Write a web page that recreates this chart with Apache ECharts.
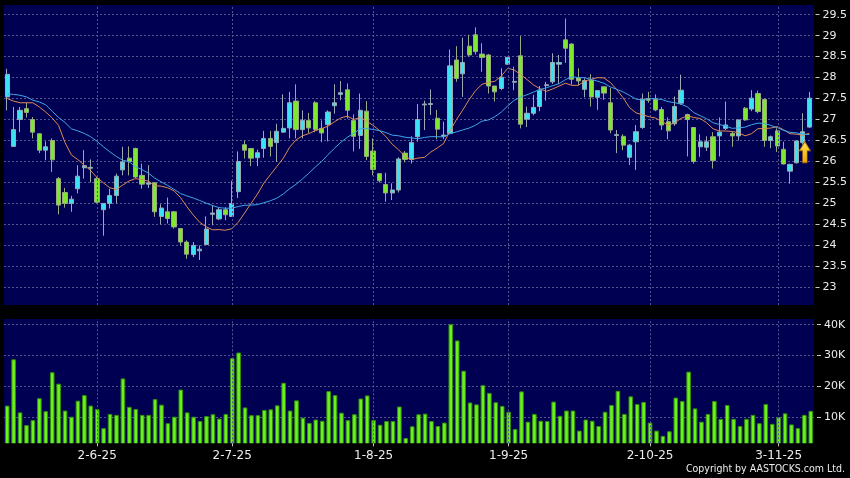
<!DOCTYPE html>
<html><head><meta charset="utf-8">
<script src="https://cdn.jsdelivr.net/npm/echarts@6/dist/echarts.min.js"></script>
<style>html,body{margin:0;padding:0;background:#000;}#c{width:850px;height:478px;}</style>
</head><body><div id="c"></div>
<script>
// ---------- data ----------
const holidays = ['2025-07-01','2025-10-01','2025-10-07','2025-10-29'];
function tradingDays(start, end, skip) {
  const out = []; let d = new Date(start + 'T00:00:00Z'); const e = new Date(end + 'T00:00:00Z');
  while (d <= e) { const wd = d.getUTCDay(); const s = d.toISOString().slice(0, 10);
    if (wd !== 0 && wd !== 6 && !skip.includes(s)) out.push(s); d = new Date(d.getTime() + 86400000); }
  return out;
}
const categories = tradingDays('2025-05-13', '2025-11-10', holidays);
const tickDates  = ['2025-06-02','2025-07-02','2025-08-01','2025-09-01','2025-10-02','2025-11-03'];
const tickLabels = ['2-6-25','2-7-25','1-8-25','1-9-25','2-10-25','3-11-25'];
const priceTickLabels  = ['23','23.5','24','24.5','25','25.5','26','26.5','27','27.5','28','28.5','29','29.5'];
const volumeTickLabels = ['10K','20K','30K','40K'];

const opens = [27.54,26.36,27.00,27.26,27.00,26.66,26.27,26.50,25.59,25.26,
25.00,25.35,25.85,25.84,25.59,24.85,25.00,25.19,25.80,26.08,
26.31,25.67,25.46,25.49,24.69,24.80,24.80,24.40,24.08,23.78,
23.87,24.02,24.74,24.63,24.85,24.69,25.28,26.40,26.31,26.09,
26.31,26.55,26.45,26.70,26.80,27.44,26.76,26.98,27.40,26.79,
26.88,27.33,27.60,27.71,26.98,26.62,27.20,26.25,25.71,25.45,
25.25,25.32,26.20,26.05,26.59,27.35,27.36,27.03,26.60,26.67,
28.42,28.09,28.75,29.02,28.56,28.54,27.80,27.74,28.32,27.89,
28.52,27.01,27.15,27.31,27.81,27.90,28.32,28.90,28.80,27.99,
27.72,27.94,27.53,27.78,27.40,26.62,26.60,26.10,26.47,26.81,
27.50,27.48,27.24,26.95,26.90,27.39,27.12,26.81,26.35,26.34,
26.59,26.61,26.79,26.67,26.61,27.27,27.25,27.62,27.48,26.50,
26.73,26.29,25.77,25.97,26.45,26.82];
const closes = [28.08,26.76,27.22,27.17,26.70,26.27,26.35,26.04,24.96,25.00,
25.10,25.65,25.90,25.86,25.03,25.00,25.19,25.65,25.99,26.00,
25.63,25.46,25.49,24.80,24.89,24.64,24.44,24.08,23.79,24.00,
23.91,24.39,24.77,24.85,24.73,25.00,26.00,26.27,26.08,26.21,
26.55,26.36,26.72,26.79,27.40,26.76,26.98,26.80,26.76,26.68,
27.18,27.40,27.64,27.22,26.60,27.22,26.12,25.81,25.54,25.25,
25.32,26.06,26.05,26.45,27.00,27.37,27.38,26.77,26.63,28.28,
27.98,28.36,28.54,28.62,28.48,27.80,27.66,28.01,28.48,27.91,
26.89,27.15,27.29,27.70,27.83,28.36,28.36,28.70,27.96,27.92,
27.93,27.54,27.69,27.63,26.75,26.64,26.39,26.39,26.71,27.48,
27.46,27.23,26.87,26.73,27.31,27.70,27.00,26.00,26.47,26.47,
26.02,26.70,26.87,26.61,26.99,26.99,27.51,27.19,26.50,26.59,
26.37,25.94,25.93,26.49,26.71,27.51];
const highs = [28.21,27.30,27.30,27.40,27.06,26.68,26.48,26.55,25.63,25.37,
25.18,25.91,26.27,26.05,25.63,25.00,25.35,25.71,26.35,26.36,
26.33,25.95,25.91,25.51,24.98,25.14,24.82,24.40,24.12,24.08,
24.00,24.69,24.95,24.91,24.91,25.54,26.24,26.50,26.31,26.28,
26.73,26.73,26.90,27.60,27.66,27.84,27.22,27.16,27.44,26.98,
27.22,27.84,27.92,27.86,27.12,27.62,27.44,26.55,25.71,25.73,
25.48,26.10,26.25,26.60,27.37,27.45,27.72,27.23,26.95,28.67,
28.75,28.95,29.02,29.20,28.82,28.56,27.80,28.22,28.50,28.26,
28.99,27.31,27.59,27.80,27.90,28.58,28.54,29.41,28.82,28.22,
27.98,28.08,27.70,27.80,27.75,26.75,26.65,26.42,26.87,27.62,
27.66,27.60,27.30,27.05,27.55,28.07,27.14,26.82,26.65,26.60,
26.70,27.05,27.43,26.72,27.00,27.30,27.70,27.69,27.50,26.62,
26.79,26.47,25.95,26.50,27.15,27.66];
const lows = [27.22,26.35,26.70,27.05,26.55,26.20,26.03,25.75,24.74,24.90,
24.80,25.24,25.59,25.50,25.00,24.23,24.88,25.00,25.67,25.67,
25.60,25.35,25.37,24.68,24.50,24.52,24.40,24.00,23.68,23.72,
23.65,24.02,24.48,24.60,24.60,24.69,25.13,26.07,25.89,25.89,
26.09,26.12,25.99,26.68,26.55,26.55,26.55,26.68,26.70,26.46,
26.48,27.14,27.46,27.02,26.24,26.30,26.03,25.67,25.50,25.04,
25.08,25.26,25.98,25.95,26.47,26.75,27.11,26.53,26.53,26.65,
27.90,27.54,28.50,28.55,28.14,27.62,27.43,27.70,28.30,27.70,
26.79,26.82,27.10,27.20,27.45,27.85,27.85,28.35,27.83,27.82,
27.53,27.31,27.23,27.47,26.67,26.20,26.27,25.92,25.80,26.78,
27.40,27.20,26.75,26.53,26.85,27.35,26.12,25.95,26.11,26.25,
25.83,26.12,26.75,26.35,26.50,26.97,27.20,27.15,26.35,26.32,
26.23,25.93,25.47,25.95,26.40,26.80];
const volumes = [13800,28800,11600,7500,9100,16200,12000,24600,20900,12200,
10200,15400,17200,13800,12700,6500,11100,10800,22600,13400,
12700,10800,10800,15900,14100,8100,10200,19000,11600,10200,
8800,10400,11000,9600,11100,29200,31000,13200,10700,10700,
12400,12600,13900,21200,12200,15500,9900,8200,9300,8900,
18500,17200,11500,9100,11000,16100,17100,9100,7600,8800,
8800,13500,3300,7100,11000,11200,8800,7200,8300,40200,
34900,25100,14800,14200,20400,17900,14900,13700,11800,6200,
18400,8600,11100,8900,8800,15100,10500,12200,12200,5700,
9300,8900,7200,11800,14000,18600,11100,16800,14300,15000,
8300,5700,4000,5500,16400,15300,24800,12900,8600,11100,
15300,9500,14000,9500,7200,9500,10800,8100,14300,7900,
10100,11300,7700,6500,10800,12100];
const ma10Warmup = [27.50,27.44,27.40,27.40,27.40,27.30,27.18,27.04,26.86];
const ma20Warmup = [27.61,27.60,27.58,27.54,27.46,27.42,27.35,27.20,27.05,26.93,
26.78,26.73,26.67,26.59,26.48,26.35,26.23,26.12,26.03];
const arrowAt = {date: '2025-11-07', price: 26.22};

// ---------- derived ----------
function sma(n, warm) {
  return closes.map((c, i) => i < n - 1 ? warm[i]
    : +(closes.slice(i - n + 1, i + 1).reduce((a, b) => a + b, 0) / n).toFixed(3));
}
const ma10 = sma(10, ma10Warmup), ma20 = sma(20, ma20Warmup);
const candleData = categories.map((_, i) => [opens[i], closes[i], lows[i], highs[i]]);
const tickIdx = tickDates.map(d => categories.indexOf(d));
const isTick = (i) => tickIdx.includes(i);
const pMin = +priceTickLabels[0], pMax = +priceTickLabels[priceTickLabels.length - 1];
const vMax = parseFloat(volumeTickLabels[volumeTickLabels.length - 1]) * 1000;

const FONT = 'DejaVu Sans';
const dash = {color: '#56568e', type: [2, 2], width: 1};
const panelBg = '#000052';

const chart = echarts.init(document.getElementById('c'), null, {renderer: 'canvas'});
const hiddenX = (g) => ({type: 'category', gridIndex: g, data: categories, boundaryGap: true, show: false});
const hiddenY = (g) => ({type: 'value', gridIndex: g, min: 0, max: 1, show: false});
const vline = (xi, yi) => ({
  type: 'line', xAxisIndex: xi, yAxisIndex: yi, data: [], silent: true,
  markLine: {silent: true, symbol: 'none', label: {show: false}, lineStyle: dash,
    data: tickIdx.map(i => ({xAxis: i}))}
});

chart.setOption({
  backgroundColor: '#000',
  animation: false,
  grid: [
    {left: 4, top: 5, width: 810, height: 300, show: true, backgroundColor: panelBg, borderWidth: 0},
    {left: 4, top: 14.7, width: 810, height: 272.6},
    {left: 4, top: 319, width: 810, height: 124.3, show: true, backgroundColor: panelBg, borderWidth: 0},
    {left: 4, top: 324.7, width: 810, height: 123.5}
  ],
  xAxis: [
    hiddenX(0), hiddenX(1),
    {type: 'category', gridIndex: 2, data: categories, boundaryGap: true, offset: 3.5, z: 5,
      axisLine: {show: false},
      axisTick: {show: true, alignWithLabel: true, length: 3, interval: (i) => isTick(i), lineStyle: {color: '#c8c8c8'}},
      axisLabel: {interval: (i) => isTick(i), margin: 3, color: '#ececec', fontSize: 12, fontFamily: FONT,
        formatter: (v) => { const k = tickDates.indexOf(v); return k >= 0 ? tickLabels[k] : ''; }},
      splitLine: {show: false}},
    hiddenX(3)
  ],
  yAxis: [
    hiddenY(0),
    {type: 'value', gridIndex: 1, position: 'right', min: pMin, max: pMax, interval: 0.5, offset: 3,
      axisLine: {show: false},
      axisTick: {show: true, length: 4, lineStyle: {color: '#c8c8c8'}},
      axisLabel: {margin: 7, color: '#ececec', fontSize: 11, fontFamily: FONT},
      splitLine: {show: true, lineStyle: dash}},
    hiddenY(2),
    {type: 'value', gridIndex: 3, position: 'right', min: 0, max: vMax, interval: 10000, offset: 3,
      axisLine: {show: false},
      axisTick: {show: true, length: 4, lineStyle: {color: '#c8c8c8'}},
      axisLabel: {margin: 7, color: '#ececec', fontSize: 11, fontFamily: FONT,
        formatter: (v) => v === 0 ? '' : volumeTickLabels[v / 10000 - 1]},
      splitLine: {show: true, lineStyle: dash}}
  ],
  series: [
    vline(0, 0), vline(2, 2),
    {type: 'candlestick', name: 'K', xAxisIndex: 1, yAxisIndex: 1, data: candleData, barWidth: 4.6,
      itemStyle: {color: '#3de2f2', color0: '#7ee82c', borderColor: '#9aaab2', borderColor0: '#9aaa84', borderWidth: 1},
      markPoint: {silent: true, animation: false, data: [{
        coord: [arrowAt.date, arrowAt.price],
        symbol: 'path://M5,0L10,9L7,9L7,21L3,21L3,9L0,9Z', symbolSize: [11, 21], symbolOffset: [2, 0],
        label: {show: false},
        itemStyle: {color: new echarts.graphic.LinearGradient(0, 0, 0, 1, [
          {offset: 0, color: '#ffe45a'}, {offset: 1, color: '#f0a400'}]), borderColor: '#b07a00', borderWidth: 0.8}
      }]}},
    {type: 'line', name: 'MA10', xAxisIndex: 1, yAxisIndex: 1, data: ma10, showSymbol: false, silent: true,
      lineStyle: {color: '#e08a52', width: 1}},
    {type: 'line', name: 'MA20', xAxisIndex: 1, yAxisIndex: 1, data: ma20, showSymbol: false, silent: true,
      lineStyle: {color: '#3ea6e6', width: 1}},
    {type: 'bar', name: 'Vol', xAxisIndex: 3, yAxisIndex: 3, data: volumes, barWidth: 4.6,
      itemStyle: {color: '#6cf01e', borderColor: '#318f0c', borderWidth: 1}}
  ],
  graphic: [
    {type: 'rect', z: 3, silent: true, shape: {x: 0, y: 443.3, width: 850, height: 5.6}, style: {fill: '#000'}},
    {type: 'text', z: 6, right: 5, top: 464, style: {text: 'Copyright by AASTOCKS.com Ltd.', fill: '#ececec',
      fontSize: 10.5, fontFamily: '"DejaVu Sans Condensed", "DejaVu Sans"'}}
  ]
});
</script></body></html>
